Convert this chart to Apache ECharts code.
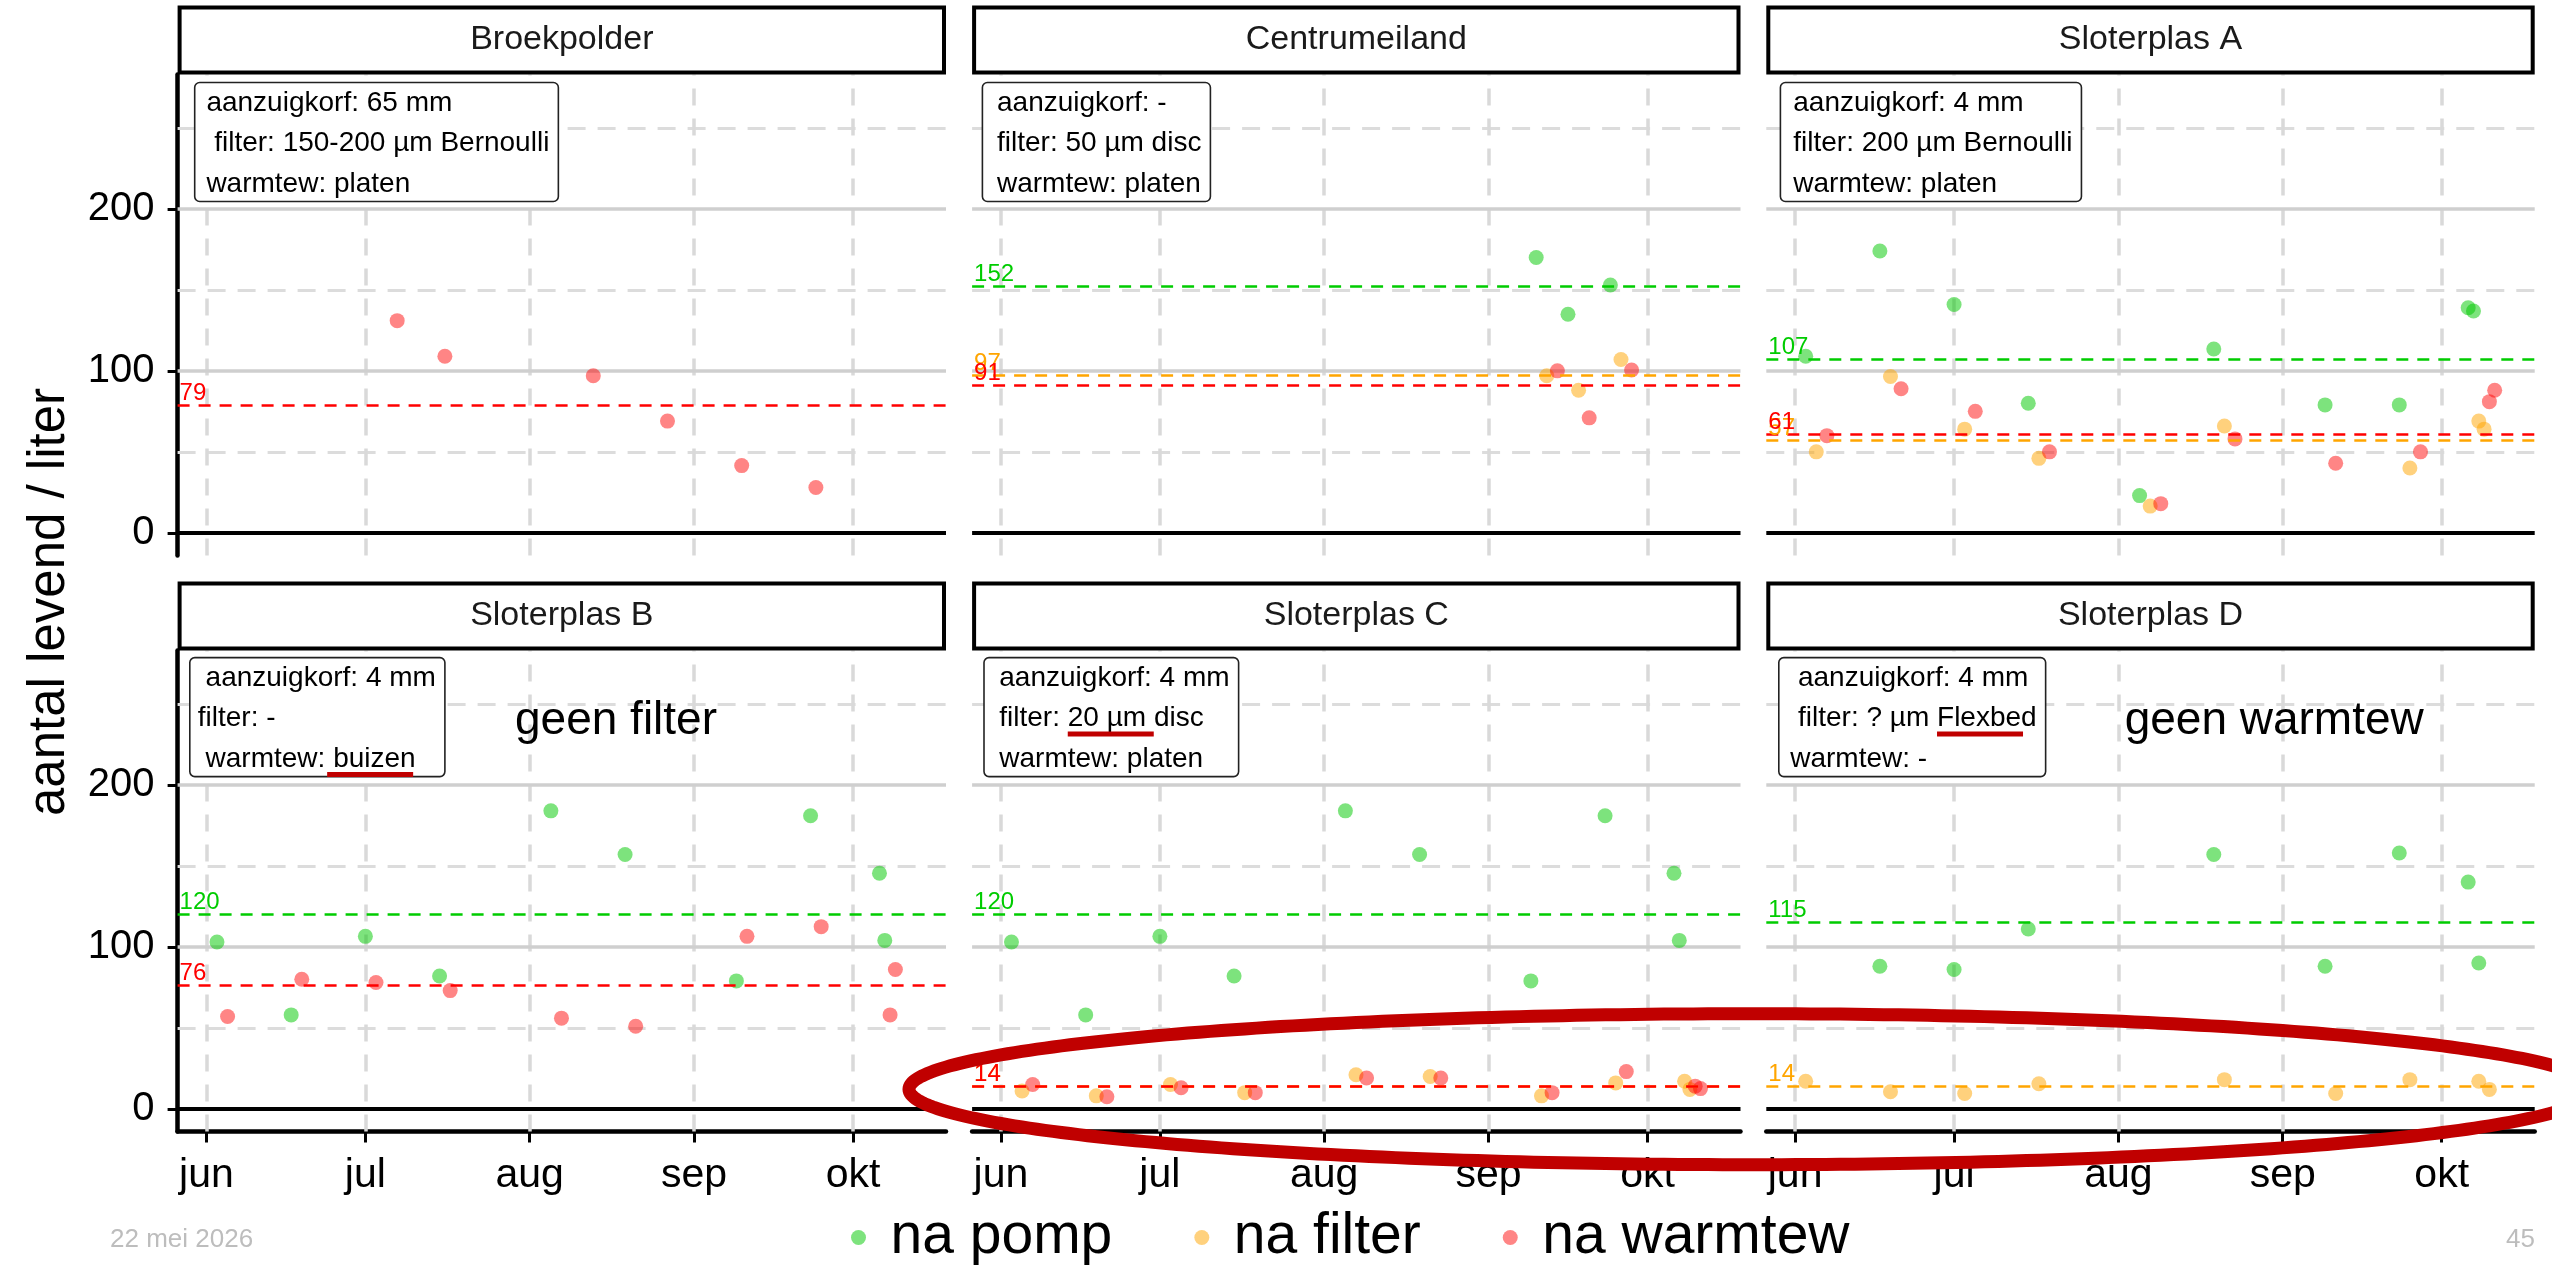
<!DOCTYPE html>
<html><head><meta charset="utf-8">
<script src="https://cdn.jsdelivr.net/npm/echarts@6/dist/echarts.min.js"></script>
<style>html,body{margin:0;padding:0;background:#fff}#c{width:2552px;height:1267px}</style>
</head><body><div id="c"></div>
<script>
// ---------- DATA ----------
const panelNames = ['Broekpolder', 'Centrumeiland', 'Sloterplas A', 'Sloterplas B', 'Sloterplas C', 'Sloterplas D'];
const seriesNames = ['na pomp', 'na filter', 'na warmtew'];
const monthTickDates = ['2025-06-01', '2025-07-01', '2025-08-01', '2025-09-01', '2025-10-01'];
const monthTickLabels = ['jun', 'jul', 'aug', 'sep', 'okt'];
const yTickValues = [0, 100, 200];
const yMinorValues = [50, 150, 250];

// Broekpolder
const broekWarmDates = ['2025-07-07', '2025-07-16', '2025-08-13', '2025-08-27', '2025-09-10', '2025-09-24'];
const broekWarmValues = [131, 109, 97, 69, 41.5, 28];

// Centrumeiland
const centrumPompDates = ['2025-09-10', '2025-09-16', '2025-09-24'];
const centrumPompValues = [170, 135, 153];
const centrumFilterDates = ['2025-09-12', '2025-09-18', '2025-09-26'];
const centrumFilterValues = [97, 88, 107];
const centrumWarmDates = ['2025-09-14', '2025-09-20', '2025-09-28'];
const centrumWarmValues = [100, 71, 100.5];

// Sloterplas A
const slotAPompDates = ['2025-06-03', '2025-06-17', '2025-07-01', '2025-07-15', '2025-08-05', '2025-08-19', '2025-09-09', '2025-09-23', '2025-10-06', '2025-10-07'];
const slotAPompValues = [109, 174, 141, 80, 23, 113.5, 79, 79, 139, 137];
const slotAFilterDates = ['2025-06-05', '2025-06-19', '2025-07-03', '2025-07-17', '2025-08-07', '2025-08-21', '2025-09-25', '2025-10-08', '2025-10-09'];
const slotAFilterValues = [50, 96.5, 64, 46, 16.5, 66, 40, 69, 64];
const slotAWarmDates = ['2025-06-07', '2025-06-21', '2025-07-05', '2025-07-19', '2025-08-09', '2025-08-23', '2025-09-11', '2025-09-27', '2025-10-10', '2025-10-11'];
const slotAWarmValues = [60, 89, 75, 50, 18, 58, 43, 50, 81, 88];

// Sloterplas B
const slotBPompDates = ['2025-06-03', '2025-06-17', '2025-07-01', '2025-07-15', '2025-08-05', '2025-08-19', '2025-09-09', '2025-09-23', '2025-10-06', '2025-10-07'];
const slotBPompValues = [103, 58, 106.5, 82, 184, 157, 79, 181, 145.5, 104];
const slotBWarmDates = ['2025-06-05', '2025-06-19', '2025-07-03', '2025-07-17', '2025-08-07', '2025-08-21', '2025-09-11', '2025-09-25', '2025-10-08', '2025-10-09'];
const slotBWarmValues = [57, 80, 78, 73, 56, 51, 106.5, 112.5, 58, 86];

// Sloterplas C
const slotCPompDates = ['2025-06-03', '2025-06-17', '2025-07-01', '2025-07-15', '2025-08-05', '2025-08-19', '2025-09-09', '2025-09-23', '2025-10-06', '2025-10-07'];
const slotCPompValues = [103, 58, 106.5, 82, 184, 157, 79, 181, 145.5, 104];
const slotCFilterDates = ['2025-06-05', '2025-06-19', '2025-07-03', '2025-07-17', '2025-08-07', '2025-08-21', '2025-09-11', '2025-09-25', '2025-10-08', '2025-10-09'];
const slotCFilterValues = [11, 8, 15, 10, 21, 20, 8, 16, 17, 12];
const slotCWarmDates = ['2025-06-07', '2025-06-21', '2025-07-05', '2025-07-19', '2025-08-09', '2025-08-23', '2025-09-13', '2025-09-27', '2025-10-10', '2025-10-11'];
const slotCWarmValues = [15, 7.5, 13, 10, 19, 19, 10, 23, 14, 12.5];

// Sloterplas D
const slotDPompDates = ['2025-06-17', '2025-07-01', '2025-07-15', '2025-08-19', '2025-09-09', '2025-09-23', '2025-10-06', '2025-10-08'];
const slotDPompValues = [88, 86, 111, 157, 88, 158, 140, 90];
const slotDFilterDates = ['2025-06-03', '2025-06-19', '2025-07-03', '2025-07-17', '2025-08-21', '2025-09-11', '2025-09-25', '2025-10-08', '2025-10-10'];
const slotDFilterValues = [17, 10.5, 9.5, 15.5, 18, 9.5, 18, 17, 12];

// Mean lines (labels in the chart), per panel
const meanPomp = [null, 152, 107, 120, 120, 115];
const meanFilter = [null, 97, 57, null, 14, 14];
const meanWarm = [79, 91, 61, 76, 14, null];

// Info boxes
const infoLines = [
  ['aanzuigkorf: 65 mm', ' filter: 150-200 µm Bernoulli', 'warmtew: platen'],
  ['aanzuigkorf: -', 'filter: 50 µm disc', 'warmtew: platen'],
  ['aanzuigkorf: 4 mm', 'filter: 200 µm Bernoulli', 'warmtew: platen'],
  [' aanzuigkorf: 4 mm', 'filter: -', ' warmtew: buizen'],
  ['aanzuigkorf: 4 mm', 'filter: 20 µm disc', 'warmtew: platen'],
  [' aanzuigkorf: 4 mm', ' filter: ? µm Flexbed', 'warmtew: -']
];
const noteTexts = ['geen filter', 'geen warmtew'];
const footerDate = '22 mei 2026';
const footerPage = '45';
const yTitle = 'aantal levend / liter';

// ---------- LAYOUT / STYLE ----------
const FONT = '"Liberation Sans", Arial, Helvetica, sans-serif';
const DAY = 86400000;
const ts = s => { const p = s.split('-').map(Number); return new Date(p[0], p[1] - 1, p[2]).getTime(); };
const monthTs = monthTickDates.map(ts);
const xMin = ts('2025-06-01') - 5.43 * DAY;
const xMax = ts('2025-10-01') + 17.55 * DAY;
const yMin = -14, yMax = 283;

const colLeft = [177.6, 972.1, 1766.3], panelW = 768.4;
const rowTop = [74.5, 650.5], panelH = 481;
const stripTop = [5.5, 581.5], stripH = 69;

const ptColors = ['rgba(0,200,0,0.64)', 'rgba(255,165,0,0.64)', 'rgba(255,0,0,0.6)'];
const lineColors = ['#00cc00', '#ffa500', '#ff0000'];

const panelData = [
  [null, null, [broekWarmDates, broekWarmValues]],
  [[centrumPompDates, centrumPompValues], [centrumFilterDates, centrumFilterValues], [centrumWarmDates, centrumWarmValues]],
  [[slotAPompDates, slotAPompValues], [slotAFilterDates, slotAFilterValues], [slotAWarmDates, slotAWarmValues]],
  [[slotBPompDates, slotBPompValues], null, [slotBWarmDates, slotBWarmValues]],
  [[slotCPompDates, slotCPompValues], [slotCFilterDates, slotCFilterValues], [slotCWarmDates, slotCWarmValues]],
  [[slotDPompDates, slotDPompValues], [slotDFilterDates, slotDFilterValues], null]
];
const panelMeans = [0, 1, 2, 3, 4, 5].map(i => [meanPomp[i], meanFilter[i], meanWarm[i]]);

const mctx = document.createElement('canvas').getContext('2d');
function tw(s, size) { mctx.font = size + 'px ' + FONT; return mctx.measureText(s).width; }

const grids = [], xAxes = [], yAxes = [], series = [], graphics = [];

for (let i = 0; i < 6; i++) {
  const r = Math.floor(i / 3), c = i % 3;
  grids.push({ left: colLeft[c], top: rowTop[r], width: panelW, height: panelH, show: false, containLabel: false });
  xAxes.push({
    type: 'value', gridIndex: i, min: xMin, max: xMax, scale: true,
    splitLine: { show: false }, splitArea: { show: false },
    axisLine: { show: r === 1, onZero: false, lineStyle: { color: '#000', width: 4.5 } },
    axisTick: { show: r === 1, customValues: monthTs, length: 11, lineStyle: { color: '#000', width: 3 } },
    axisLabel: {
      show: r === 1, customValues: monthTs, fontSize: 41, color: '#000', fontFamily: FONT, margin: 24,
      formatter: v => { const k = monthTs.findIndex(m => Math.abs(m - v) < DAY / 2); return k >= 0 ? monthTickLabels[k] : ''; }
    }
  });
  yAxes.push({
    type: 'value', gridIndex: i, min: yMin, max: yMax,
    splitLine: { show: false },
    axisLine: { show: c === 0, onZero: false, lineStyle: { color: '#000', width: 4.5 } },
    axisTick: { show: c === 0, customValues: yTickValues, length: 10, lineStyle: { color: '#000', width: 3 } },
    axisLabel: { show: c === 0, customValues: yTickValues, fontSize: 40, color: '#000', fontFamily: FONT, margin: 23 }
  });

  // background grid lines via markLine
  series.push({
    type: 'line', xAxisIndex: i, yAxisIndex: i, data: [], silent: true, z: 1,
    markLine: {
      silent: true, symbol: ['none', 'none'], z: 1, animation: false, label: { show: false },
      emphasis: { disabled: true },
      data: [].concat(
        yMinorValues.map(v => ({ yAxis: v, lineStyle: { color: '#dcdcdc', width: 3, type: [18, 12] } })),
        monthTs.map(t => ({ xAxis: t, lineStyle: { color: '#d9d9d9', width: 3.5, type: [17, 13] } })),
        yTickValues.filter(v => v !== 0).map(v => ({ yAxis: v, lineStyle: { color: '#cfcfcf', width: 3.5, type: 'solid' } })),
        [{ yAxis: 0, lineStyle: { color: '#000', width: 3.8, type: 'solid' } }]
      )
    }
  });

  for (let k = 0; k < 3; k++) {
    const d = panelData[i][k];
    if (!d) continue;
    const mean = panelMeans[i][k];
    const s = {
      type: 'scatter', name: seriesNames[k], xAxisIndex: i, yAxisIndex: i, silent: true, z: 2 + k,
      symbol: 'circle', symbolSize: 15, itemStyle: { color: ptColors[k] },
      data: d[0].map((dt, j) => [ts(dt), d[1][j]])
    };
    if (mean != null) {
      s.markLine = {
        silent: true, symbol: ['none', 'none'], animation: false, emphasis: { disabled: true },
        data: [{ yAxis: mean }],
        lineStyle: { color: lineColors[k], width: 2.7, type: [12, 9] },
        label: { show: true, position: 'insideStartTop', formatter: String(mean), color: lineColors[k], fontSize: 24, fontFamily: FONT, distance: [2, 0] }
      };
    }
    series.push(s);
  }

  // strip
  graphics.push({ type: 'rect', z: 10, shape: { x: colLeft[c] + 2, y: stripTop[r] + 2, width: panelW - 4, height: stripH - 4 }, style: { fill: '#fff', stroke: '#000', lineWidth: 4 } });
  graphics.push({ type: 'text', z: 11, x: colLeft[c] + panelW / 2, y: stripTop[r] + stripH / 2, style: { text: panelNames[i], fontSize: 34, fontFamily: FONT, fill: '#1a1a1a', align: 'center', verticalAlign: 'middle', textAlign: 'center', textVerticalAlign: 'middle' } });
}

// info boxes
const boxOffX = [17.1, 10.3, 14.1, 12.2, 11.9, 12.5];
const boxPadL = [11.7, 14.6, 12.9, 8, 15.3, 11.4];
const boxFont = 28, boxLH = 40.5, boxH = 119;
const boxTops = [];
for (let i = 0; i < 6; i++) {
  const r = Math.floor(i / 3), c = i % 3;
  const bx = colLeft[c] + boxOffX[i];
  const by = rowTop[r] + (r === 0 ? 8 : 7.1);
  boxTops.push([bx, by]);
  const w = boxPadL[i] + Math.max.apply(null, infoLines[i].map(l => tw(l, boxFont))) + 9;
  graphics.push({ type: 'rect', z: 20, shape: { x: bx, y: by, width: w, height: boxH, r: 5 }, style: { fill: '#fff', stroke: '#222', lineWidth: 1.6 } });
  graphics.push({ type: 'text', z: 21, x: bx + boxPadL[i], y: by + 20.5 - boxLH / 2, style: { text: infoLines[i].join('\n'), fontSize: boxFont, fontFamily: FONT, fill: '#000', lineHeight: boxLH, align: 'left', verticalAlign: 'top', textAlign: 'left', textVerticalAlign: 'top' } });
}

// red underlines [panel, line, prefix, dx]
const underlines = [[3, 2, ' warmtew: ', -6], [4, 1, 'filter: ', 0], [5, 1, ' filter: ? µm ', 0]];
underlines.forEach(u => {
  const [i, li, prefix, dx] = u;
  const [bx, by] = boxTops[i];
  const x0 = bx + boxPadL[i] + tw(prefix, boxFont) + dx;
  const yc = by + 20.5 + li * boxLH + 15.5;
  graphics.push({ type: 'rect', z: 30, shape: { x: x0, y: yc - 2.5, width: 86, height: 5 }, style: { fill: '#c00000' } });
});

// notes
graphics.push({ type: 'text', z: 21, x: colLeft[0] + 438.4, y: 721.5, style: { text: noteTexts[0], fontSize: 46, fontFamily: FONT, fill: '#000', align: 'center', verticalAlign: 'middle', textAlign: 'center', textVerticalAlign: 'middle' } });
graphics.push({ type: 'text', z: 21, x: colLeft[2] + 507.9, y: 721.5, style: { text: noteTexts[1], fontSize: 46, fontFamily: FONT, fill: '#000', align: 'center', verticalAlign: 'middle', textAlign: 'center', textVerticalAlign: 'middle' } });

// y title
graphics.push({ type: 'text', z: 21, x: 50, y: 602, rotation: Math.PI / 2, style: { text: yTitle, fontSize: 51, fontFamily: FONT, fill: '#000', align: 'center', verticalAlign: 'middle', textAlign: 'center', textVerticalAlign: 'middle' } });

// footer
graphics.push({ type: 'text', z: 21, x: 110, y: 1240, style: { text: footerDate, fontSize: 26, fontFamily: FONT, fill: '#bdbdbd', align: 'left', verticalAlign: 'middle', textAlign: 'left', textVerticalAlign: 'middle' } });
graphics.push({ type: 'text', z: 21, x: 2535, y: 1240, style: { text: footerPage, fontSize: 26, fontFamily: FONT, fill: '#bdbdbd', align: 'right', verticalAlign: 'middle', textAlign: 'right', textVerticalAlign: 'middle' } });

// red ellipse annotation
const ell = { cx: 1752, cy: 1089.2, a: 843, b: 75.5 };
const ellPts = [];
for (let k = 0; k < 360; k++) { const t = k / 360 * Math.PI * 2; ellPts.push([ell.cx + ell.a * Math.cos(t), ell.cy + ell.b * Math.sin(t)]); }
graphics.push({ type: 'polygon', z: 100, shape: { points: ellPts }, style: { fill: 'none', stroke: '#c00000', lineWidth: 13 } });

const chart = echarts.init(document.getElementById('c'), null, { renderer: 'canvas', width: 2552, height: 1267 });
chart.setOption({
  animation: false,
  backgroundColor: '#fff',
  textStyle: { fontFamily: FONT },
  grid: grids, xAxis: xAxes, yAxis: yAxes, series: series,
  legend: {
    data: seriesNames, left: 846, top: 1204, icon: 'circle', itemWidth: 54, itemHeight: 15, itemGap: 82,
    selectedMode: false, textStyle: { fontSize: 57, color: '#000', fontFamily: FONT }
  },
  graphic: { elements: graphics }
});
</script></body></html>
